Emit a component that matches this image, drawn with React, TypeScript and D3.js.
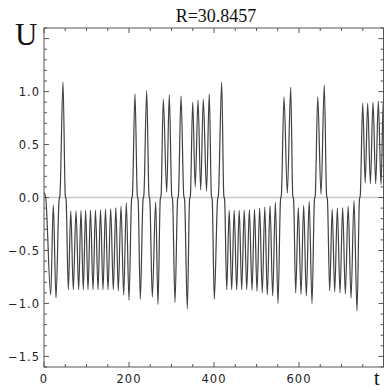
import React from "react";
import * as d3 from "d3";

// Extrema (and zero-crossing shoulders) of U(t)
const times: number[] = [
  0, 4, 15.8, 21.9, 28.2, 35.5, 37.5, 44.7, 50, 52,
  // negative lobe 1
  57.2, 63, 68.9, 75.3, 81.6, 87, 92.5, 98, 103.5, 109.4, 115.3, 121.2, 127.1, 133, 138.8, 144.7,
  150.6, 156.9, 163.1, 169, 174.8, 181.2, 187.5, 193.7, 200,
  206, 208, 214.1, 219.5, 221.5, 226.6, 233, 235, 241.6, 247, 249,
  254.8, 262.8, 268.2, 273.5, 275.5, 280.7, 288.7, 294.8, 300.5, 302.5, 308.2,
  314.3, 316.3, 322.4, 328.8, 330.8, 337.2, 342.5, 344.5,
  349.9, 355.8, 362.4, 368.7, 374.8, 382.4, 388.9, 393.8, 395.8, 400.7,
  408.4, 410.4, 418.1, 423, 425,
  // negative lobe 2
  429.9, 435.8, 441.6, 447.5, 453.4, 459.3, 465.2, 471.1, 477.0, 483.2, 489.4, 495.3, 501.2, 507.4,
  513.6, 519.5, 525.4, 531.8, 538.1, 544.4, 550.6,
  556.5, 558.5, 564.7, 572.5, 580.5, 585.3, 587.3,
  592.2, 598.4, 604.7, 611, 617.2, 623.9, 630.6,
  636.3, 638.3, 644, 651.8, 659.5, 664.9, 666.9,
  672.2, 678.1, 684, 690.2, 696.5, 702.7, 709, 715.7, 722.4, 729.4, 736.5,
  742.2, 744.2, 749.9, 755.8, 761.6, 768, 774.1, 780.5, 786.6, 793, 798.4, 804,
];

const values: number[] = [
  0.05, 0.0, -0.92, -0.07, -0.95, -0.02, 0.02, 1.09, 0.02, -0.02,
  -0.87, -0.125, -0.87, -0.125, -0.87, -0.122, -0.87, -0.12, -0.87, -0.12, -0.87, -0.118, -0.87, -0.115, -0.87, -0.11,
  -0.87, -0.105, -0.87, -0.095, -0.88, -0.08, -0.92, -0.05, -0.97,
  -0.02, 0.02, 0.98, 0.02, -0.02, -0.96, -0.02, 0.02, 1.01, 0.02, -0.02,
  -0.94, -0.04, -1.01, -0.02, 0.02, 0.93, 0.05, 0.97, 0.02, -0.02, -0.99,
  -0.02, 0.02, 0.96, 0.02, -0.02, -1.05, -0.02, 0.02,
  0.9, 0.1, 0.92, 0.07, 0.93, 0.06, 0.98, 0.02, -0.02, -0.96,
  -0.02, 0.02, 1.09, 0.02, -0.02,
  -0.87, -0.12, -0.87, -0.12, -0.87, -0.12, -0.87, -0.118, -0.87, -0.115, -0.875, -0.11, -0.885, -0.1,
  -0.9, -0.09, -0.92, -0.075, -0.93, -0.045, -1.0,
  -0.02, 0.02, 0.95, 0.04, 1.04, 0.02, -0.02,
  -0.9, -0.095, -0.915, -0.075, -0.93, -0.035, -1.0,
  -0.02, 0.02, 0.95, 0.03, 1.06, 0.02, -0.02,
  -0.88, -0.11, -0.89, -0.1, -0.9, -0.095, -0.91, -0.08, -0.95, -0.03, -1.07,
  -0.02, 0.02, 0.89, 0.14, 0.89, 0.13, 0.9, 0.13, 0.91, 0.12, 0.92, 0.3,
];

const xTickValues: number[] = [0, 200, 400, 600];
const yTickValues: number[] = [-1.5, -1.0, -0.5, 0.0, 0.5, 1.0];
const titleText = "R=30.8457";

export default function App() {
  const W = 384, H = 390;
  const left = 44, right = 383.5, top = 28, bottom = 367;
  const x = d3.scaleLinear().domain([0, 800]).range([left, right + 0.5]);
  const y = d3.scaleLinear().domain([-1.6, 1.6]).range([bottom, top]);

  const data = times.map((t, i) => [t, values[i]] as [number, number]);
  const line = d3
    .line<[number, number]>()
    .x((d) => x(d[0]))
    .y((d) => y(d[1]))
    .curve(d3.curveMonotoneX);

  const xMinor = d3.range(0, 801, 50);
  const yMinor = d3.range(-16, 17).map((k) => k / 10);
  const frame = "#555";
  const labelFont = "'DejaVu Sans', sans-serif";

  return (
    <svg
      width={W}
      height={H}
      style={{ position: "absolute", left: 0, top: 0, background: "#fff" }}
    >
      <defs>
        <clipPath id="plotClip">
          <rect x={left} y={top} width={right - left} height={bottom - top} />
        </clipPath>
      </defs>
      <rect x={0} y={0} width={W} height={H} fill="#fff" />
      {/* zero line */}
      <line x1={left} x2={right} y1={y(0)} y2={y(0)} stroke="#c8c8c8" strokeWidth={1.5} />
      {/* signal */}
      <path
        d={line(data) || ""}
        fill="none"
        stroke="#404040"
        strokeWidth={1.2}
        clipPath="url(#plotClip)"
      />
      {/* frame */}
      <rect x={left} y={top} width={right - left} height={bottom - top} fill="none" stroke={frame} strokeWidth={1} />
      {/* x ticks top and bottom */}
      {xMinor.map((v) => {
        const major = v % 200 === 0;
        const len = major ? 5 : 3;
        const xx = x(v);
        return (
          <g key={"xt" + v}>
            <line x1={xx} x2={xx} y1={bottom} y2={bottom - len} stroke={frame} />
            <line x1={xx} x2={xx} y1={top} y2={top + len} stroke={frame} />
          </g>
        );
      })}
      {/* y ticks left and right */}
      {yMinor.map((v) => {
        const major = Math.abs(Math.round(v * 10) % 5) === 0;
        const len = major ? 5 : 3;
        const yy = y(v);
        return (
          <g key={"yt" + v}>
            <line x1={left} x2={left + len} y1={yy} y2={yy} stroke={frame} />
            <line x1={right} x2={right - len} y1={yy} y2={yy} stroke={frame} />
          </g>
        );
      })}
      {/* y tick labels */}
      {yTickValues.map((v) => (
        <text
          key={"yl" + v}
          x={40}
          y={y(v) + 4.3}
          textAnchor="end"
          fontFamily={labelFont}
          fontSize={11.5}
          letterSpacing={1}
          fill="#222"
        >
          {(v < 0 ? "\u2212" : "") + Math.abs(v).toFixed(1)}
        </text>
      ))}
      {/* x tick labels */}
      {xTickValues.map((v) => (
        <text
          key={"xl" + v}
          x={x(v)}
          y={383}
          textAnchor="middle"
          fontFamily={labelFont}
          fontSize={11.5}
          letterSpacing={1}
          fill="#222"
        >
          {String(v)}
        </text>
      ))}
      {/* axis names and title */}
      <text x={15} y={45} fontFamily="'Liberation Serif', serif" fontSize={31} fill="#111">
        U
      </text>
      <text x={374} y={384.5} fontFamily="'Liberation Serif', serif" fontSize={20} fill="#111">
        t
      </text>
      <text x={216} y={22} textAnchor="middle" fontFamily="'Liberation Serif', serif" fontSize={18} fill="#111">
        {titleText}
      </text>
    </svg>
  );
}
